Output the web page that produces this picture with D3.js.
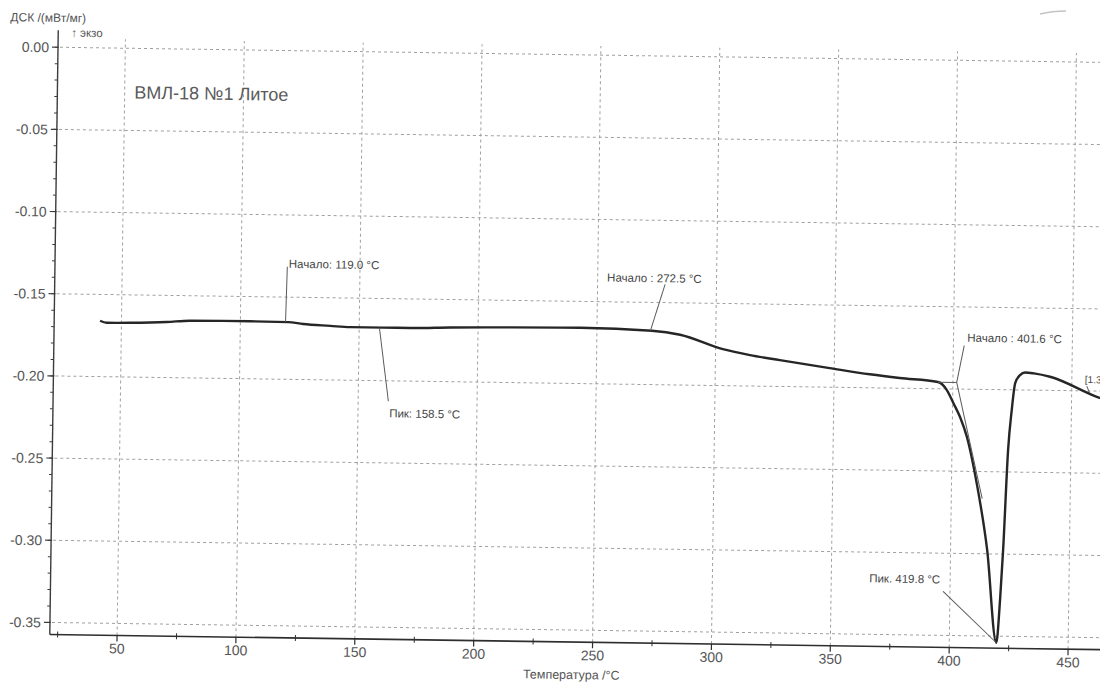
<!DOCTYPE html>
<html>
<head>
<meta charset="utf-8">
<script src="https://cdn.jsdelivr.net/npm/d3@7"></script>
<style>
  html, body { margin: 0; padding: 0; background: #fff; }
  svg { display: block; font-family: "Liberation Sans", Arial, sans-serif; }
</style>
</head>
<body>
<svg id="chart" width="1100" height="684"></svg>
<script>
// DSC heating curve, sample ВМЛ-18 №1 (cast)
const temperature = [41.0, 43.8, 53.5, 69.0, 78.8, 104.1, 120.1, 126.4, 137.8, 146.2, 160.1, 171.5,
  188.3, 209.3, 243.0, 273.1, 285.0, 303.1, 314.5, 327.1, 348.1, 365.0, 377.6, 393.7,
  397.5, 400.4, 403.2, 406.2, 410.6, 415.4, 419.8, 421.1, 422.1, 423.6, 424.9, 426.2,
  428.2, 430.3, 434.0, 440.8, 460.6, 462.0];
const dsc = [-0.1660, -0.1672, -0.1670, -0.1662, -0.1652, -0.1650, -0.1652, -0.1662, -0.1671, -0.1677, -0.1677, -0.1677,
  -0.1670, -0.1665, -0.1660, -0.1672, -0.1694, -0.1778, -0.1812, -0.1840, -0.1884, -0.1918, -0.1938, -0.1959,
  -0.2007, -0.2088, -0.2170, -0.2290, -0.2571, -0.2977, -0.3540, -0.3280, -0.2976, -0.2367, -0.2123, -0.1959,
  -0.1910, -0.1893, -0.1898, -0.1917, -0.2035, -0.2042];

const xTickValues = [50, 100, 150, 200, 250, 300, 350, 400, 450];
const xMinorTicks = [25, 75, 125, 175, 225, 275, 325, 375, 425, 475];
const yTickValues = [0, -0.05, -0.10, -0.15, -0.20, -0.25, -0.30, -0.35];

const onsetTemps = [119.0, 272.5, 401.6];
const peakTemps = [158.5, 419.8];
const sampleName = "ВМЛ-18 №1 Литое";
const xTitle = "Температура /°C";
const yTitle = "ДСК /(мВт/мг)";
const exoTitle = "↑ экзо";
const segmentLabel = "[1.3]";

const svg = d3.select("#chart");
svg.append("rect").attr("width", 1100).attr("height", 684).attr("fill", "#fff");

// printed sheet sits slightly tilted
const root = svg.append("g")
  .attr("transform", "translate(575,340) matrix(1,0.0145,-0.014,1,0,0) translate(-575,-340)");

const x = d3.scaleLinear().domain([50, 450]).range([121.3, 1072.3]);
const y = d3.scaleLinear().domain([0, -0.35]).range([54.8, 630]);
const xMin = 21.7, xMax = 480, yMin = -0.3573, yMax = 0.0055;

const gridColor = "#a0a0a0";
const textColor = "#555";

// grid
const grid = root.append("g").attr("stroke", gridColor).attr("stroke-width", 1)
  .attr("stroke-dasharray", "3,3").attr("fill", "none");
grid.selectAll("line.h").data(yTickValues).join("line").attr("class", "h")
  .attr("x1", x(xMin) + 2).attr("x2", x(xMax))
  .attr("y1", d => y(d)).attr("y2", d => y(d));
grid.selectAll("line.v").data(xTickValues).join("line").attr("class", "v")
  .attr("x1", d => x(d)).attr("x2", d => x(d))
  .attr("y1", y(yMin)).attr("y2", y(yMax));

// y axis
const y0 = x(xMin);
const yAxis = root.append("g").attr("stroke", "#3c3c3c");
yAxis.append("line").attr("x1", y0).attr("x2", y0)
  .attr("y1", y(yMax) - 8).attr("y2", y(yMin)).attr("stroke-width", 1.4);
const yMinor = d3.range(0, 36).map(i => -i / 100).filter(v => v >= yMin);
yAxis.selectAll("line.ym").data(yMinor).join("line").attr("class", "ym")
  .attr("x1", y0 - 3).attr("x2", y0).attr("y1", d => y(d)).attr("y2", d => y(d)).attr("stroke-width", 1);
yAxis.selectAll("line.yM").data(yTickValues).join("line").attr("class", "yM")
  .attr("x1", y0 - 6).attr("x2", y0 + 1).attr("y1", d => y(d)).attr("y2", d => y(d)).attr("stroke-width", 1.2);
root.append("g").selectAll("text").data(yTickValues).join("text")
  .attr("x", y0 - 9).attr("y", d => y(d)).attr("dy", "0.36em")
  .attr("text-anchor", "end").attr("font-size", 14).attr("fill", textColor)
  .text(d => d.toFixed(2));

// x axis
const x0 = y(yMin);
const xAxis = root.append("g").attr("stroke", "#2e2e2e");
xAxis.append("line").attr("x1", y0).attr("x2", x(xMax)).attr("y1", x0).attr("y2", x0).attr("stroke-width", 1.6);
xAxis.selectAll("line.xm").data(xMinorTicks).join("line").attr("class", "xm")
  .attr("x1", d => x(d)).attr("x2", d => x(d)).attr("y1", x0 - 3).attr("y2", x0 + 3).attr("stroke-width", 1);
xAxis.selectAll("line.xM").data(xTickValues).join("line").attr("class", "xM")
  .attr("x1", d => x(d)).attr("x2", d => x(d)).attr("y1", x0).attr("y2", x0 + 6).attr("stroke-width", 1.2);
root.append("g").selectAll("text").data(xTickValues).join("text")
  .attr("x", d => x(d)).attr("y", x0 + 18)
  .attr("text-anchor", "middle").attr("font-size", 14).attr("fill", textColor)
  .text(d => d);

// titles
root.append("text").attr("x", 576).attr("y", 679).attr("text-anchor", "middle")
  .attr("font-size", 12.5).attr("fill", textColor).text(xTitle);
root.append("text").attr("x", 6).attr("y", 29.5)
  .attr("font-size", 12).attr("fill", textColor).text(yTitle);
root.append("text").attr("x", 67).attr("y", 44)
  .attr("font-size", 11.5).attr("fill", textColor).text(exoTitle);
root.append("text").attr("x", 131).attr("y", 105)
  .attr("font-size", 18).attr("fill", "#5a5a5a").text(sampleName);

// curve
const points = temperature.map((t, i) => [t, dsc[i]]);
const line = d3.line().x(d => x(d[0])).y(d => y(d[1])).curve(d3.curveMonotoneX);
root.append("path").datum(points)
  .attr("fill", "none").attr("stroke", "#262626").attr("stroke-width", 2.4)
  .attr("stroke-linejoin", "round").attr("d", line);

// value on the curve at a given temperature
const bis = d3.bisector(d => d[0]).left;
function valueAt(t) {
  const i = Math.max(1, Math.min(points.length - 1, bis(points, t)));
  const a = points[i - 1], b = points[i];
  return a[1] + (b[1] - a[1]) * (t - a[0]) / (b[0] - a[0]);
}

const ann = root.append("g");
const leader = (x1, y1, x2, y2) => ann.append("line")
  .attr("x1", x1).attr("y1", y1).attr("x2", x2).attr("y2", y2)
  .attr("stroke", "#5a5a5a").attr("stroke-width", 1);
const label = (tx, ty, s, anchor, size) => ann.append("text")
  .attr("x", tx).attr("y", ty).attr("font-size", size || 11.5).attr("fill", "#454545")
  .attr("text-anchor", anchor || "start").text(s);

// onset 1
{
  const t = onsetTemps[0], ax = x(t), ay = y(valueAt(t));
  leader(ax, ay, ax + 1, 271);
  label(ax + 2.5, 272, `Начало: ${t.toFixed(1)} °C`);
}
// peak 1
{
  const t = peakTemps[0], ax = x(t), ay = y(valueAt(t));
  leader(ax, ay, ax + 10, 404);
  label(ax + 11, 420, `Пик: ${t.toFixed(1)} °C`);
}
// onset 2
{
  const t = onsetTemps[1], ax = x(t), ay = y(valueAt(t));
  leader(ax, ay, ax + 14, 283);
  label(ax - 44, 281, `Начало : ${t.toFixed(1)} °C`);
}
// onset 3: baseline and inflection tangent
{
  const t = onsetTemps[2], base = -0.1960, ax = x(t), ay = y(base);
  leader(x(393.7), ay, ax, ay);
  leader(ax, ay, x(413.0), y(-0.2665));
  leader(ax, ay, ax + 7, 340);
  label(ax + 10, 336, `Начало : ${t.toFixed(1)} °C`);
}
// peak 2
{
  const t = peakTemps[1], ax = x(t), ay = y(valueAt(t));
  leader(ax, ay, ax - 54, 586);
  label(ax - 57, 578, `Пик. ${t.toFixed(1)} °C`, "end");
}
// segment tag at the curve end
{
  const ax = x(458), ay = y(valueAt(458));
  leader(ax - 1, ay - 1, ax - 4, ay - 8);
  label(ax - 6, ay - 11, segmentLabel, "start", 10);
}

// pen mark in the corner of the sheet
svg.append("path").attr("d", "M1040,14 Q1052,11 1066,11")
  .attr("fill", "none").attr("stroke", "#c4c4c4").attr("stroke-width", 1.6);
</script>
</body>
</html>
